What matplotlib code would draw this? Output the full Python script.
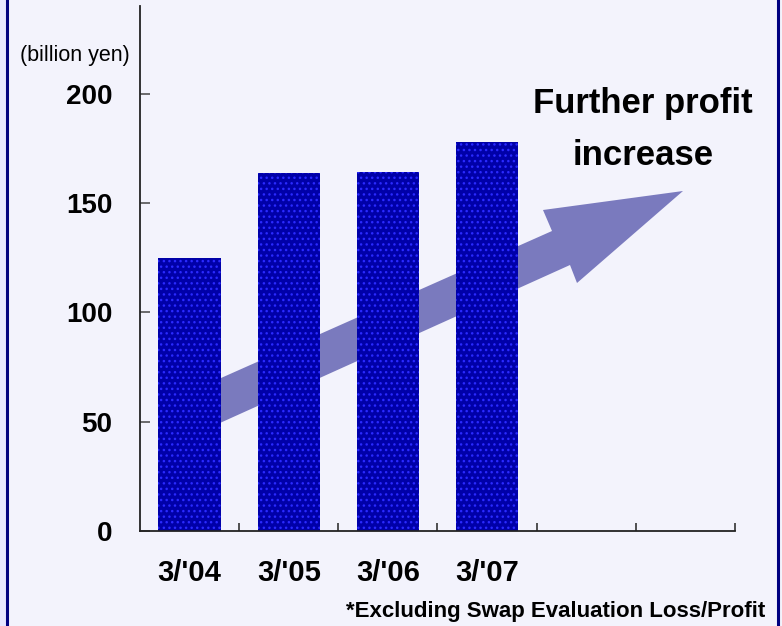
import matplotlib
matplotlib.use("Agg")
import matplotlib.pyplot as plt
import numpy as np
from matplotlib.patches import Polygon
from matplotlib.lines import Line2D

# data
periods = ["3/'04", "3/'05", "3/'06", "3/'07", "", ""]
profit = [125, 163.5, 164, 178]
y_ticks = [0, 50, 100, 150, 200]

W, H = 782, 626
BG = "#F3F3FC"

plt.rcParams['font.family'] = ['Liberation Sans', 'DejaVu Sans']
plt.rcParams['hatch.linewidth'] = 1.0
plt.rcParams['hatch.color'] = '#2A2AFF'

fig = plt.figure(figsize=(W / 100, H / 100), dpi=100, facecolor=BG)
ax = fig.add_axes([140 / W, 1 - 531 / H, (735 - 140) / W, (531 - 6) / H])
ax.set_facecolor(BG)


def px(points):
    # pixel coords (top-left origin) -> figure fraction
    p = np.array(points, dtype=float)
    return np.column_stack([p[:, 0] / W, 1 - p[:, 1] / H])


# big arrow behind the bars
arrow = Polygon(px([(185, 394), (552, 231), (543, 210), (683, 191),
                    (577, 283), (570, 265), (200, 432)]),
                closed=True, transform=fig.transFigure, facecolor='#7A7ABE',
                edgecolor='none', zorder=1, clip_on=False)
ax.add_patch(arrow)

x = np.arange(len(profit))
ax.bar(x, profit, width=0.63, color='#0000A8', edgecolor='#2A2AFF',
       linewidth=0, hatch='...', zorder=2)

ax.set_xlim(-0.5, len(periods) - 0.5)
ax.set_ylim(0, 240)
ax.set_xticks(np.arange(len(periods)))
ax.set_xticklabels(periods, fontsize=21, fontweight='bold')
ax.set_xticks(np.arange(len(periods)) + 0.5, minor=True)
ax.tick_params(axis='x', which='major', length=0, pad=20)
ax.tick_params(axis='x', which='minor', direction='in', length=6, width=1.1, color='#222222')
ax.set_yticks(y_ticks)
ax.set_yticklabels([str(v) for v in y_ticks], fontsize=20, fontweight='bold')
ax.tick_params(axis='y', direction='in', length=7, width=1.1, color='#444444', pad=20)

for s in ['top', 'right']:
    ax.spines[s].set_visible(False)
for s in ['left', 'bottom']:
    ax.spines[s].set_color('#222222')
    ax.spines[s].set_linewidth(1.3)

fig.text(75 / W, 1 - 55 / H, "(billion yen)", fontsize=15.5, ha='center', va='center')
fig.text(643 / W, 1 - 113 / H, "Further profit", fontsize=25, fontweight='bold',
         ha='center', va='baseline')
fig.text(643 / W, 1 - 165 / H, "increase", fontsize=25, fontweight='bold',
         ha='center', va='baseline')
fig.text(765 / W, 1 - 611 / H, "*Excluding Swap Evaluation Loss/Profit", fontsize=16,
         fontweight='bold', ha='right', va='center')

# frame
fig.patches.append(plt.Rectangle((0, 0), 6 / W, 1, transform=fig.transFigure,
                                 facecolor='#E6E6FF', edgecolor='none'))
fig.lines.append(Line2D([7 / W, 7 / W], [0, 1], transform=fig.transFigure, color='#000080', lw=2.2))
fig.lines.append(Line2D([778 / W, 778 / W], [0, 1], transform=fig.transFigure, color='#000080', lw=2.2))

fig.savefig("out.png", dpi=100, facecolor=BG)
